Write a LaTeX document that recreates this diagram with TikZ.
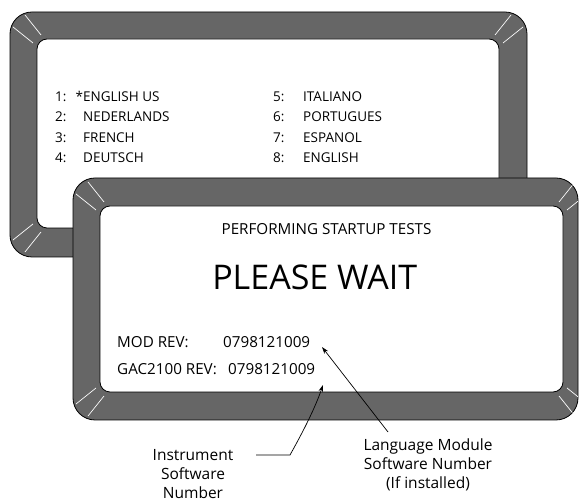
\documentclass[tikz,border=0pt]{standalone}
\usepackage{fontspec}
\setmainfont{Open Sans}
\usetikzlibrary{arrows.meta,positioning,calc}
\definecolor{bezel}{gray}{0.4}

% screen: name, outer corners, inner corners
\newcommand{\drawscreen}[5]{%
  \coordinate (#1-tl) at (#4);
  \coordinate (#1-br) at (#5);
  \coordinate (#1-tr) at (#1-br |- #1-tl);
  \coordinate (#1-bl) at (#1-tl |- #1-br);
  \draw[fill=bezel, line width=0.8pt, rounded corners=22pt] (#2) rectangle (#3);
  \begin{scope}
    \clip[rounded corners=22pt] (#2) rectangle (#3);
    \foreach \c/\sx/\sy in {tl/-1/-1, tr/1/-1, bl/-1/1, br/1/1} {
      \draw[white, line width=0.7pt] ($(#1-\c)+(24*\sx,12*\sy)$) -- ($(#1-\c)+(4*\sx,-4*\sy)$);
      \draw[white, line width=0.7pt] ($(#1-\c)+(12*\sx,24*\sy)$) -- ($(#1-\c)+(-4*\sx,4*\sy)$);
    }
  \end{scope}
  \draw[fill=white, line width=0.8pt, rounded corners=10pt] (#4) rectangle (#5);
}

\begin{document}
\begin{tikzpicture}[x=1pt, y=-1pt,
  menutext/.style={font=\fontsize{13.5}{20.3}\selectfont, inner sep=0pt, anchor=base west},
  scrtext/.style={font=\fontsize{15.2}{20}\selectfont, inner sep=0pt, anchor=base west},
  bigtext/.style={font=\fontsize{34}{40}\selectfont, inner sep=0pt, anchor=base},
  callout/.style={font=\fontsize{15.5}{19}\selectfont, align=center, inner sep=0.5pt},
  pointer/.style={-{Stealth[length=7pt,width=4.5pt]}, line width=0.7pt},
]
\useasboundingbox (0,0) rectangle (579,502);

% language menu screen (behind)
\drawscreen{menu}{10,12}{527,257}{37,39}{499,228}
\node[menutext] (langsA) at (55,101.5) {\begin{tabular}[t]{@{}p{28pt}@{}l@{}}
  1: & \llap{*}ENGLISH US\\ 2: & NEDERLANDS\\ 3: & FRENCH\\ 4: & DEUTSCH\end{tabular}};
\node[menutext] (langsB) at (273,101.5) {\begin{tabular}[t]{@{}p{30pt}@{}l@{}}
  5: & ITALIANO\\ 6: & PORTUGUES\\ 7: & ESPANOL\\ 8: & ENGLISH\end{tabular}};

% startup screen (front)
\drawscreen{start}{73,178}{578,420}{100,206}{563,392}
\node[scrtext, anchor=base] (perf) at (326.5,234.3) {PERFORMING STARTUP TESTS};
\node[bigtext] (wait) at (314.7,290) {PLEASE WAIT};
\node[scrtext] (modrev) at (117,348) {MOD REV:};
\node[scrtext] (modnum) at (223,348) {0798121009};
\node[scrtext] (gacrev) at (117,375) {GAC2100 REV:};
\node[scrtext] (gacnum) at (228,375) {0798121009};

% callouts
\node[callout, anchor=north] (langlbl) at (428,438) {Language Module\\Software Number\\(If installed)};
\node[callout, anchor=north] (instlbl) at (193,448.5) {Instrument\\Software\\Number};
\coordinate (modtip) at (322,347);
\coordinate (gactip) at (323,385);
\coordinate (instkink) at (290,455);

\draw[pointer] ([xshift=-40pt, yshift=6pt]langlbl.north) -- (modtip);
\draw[pointer] (instkink -| instlbl.east) ++(22,0) -- (instkink)
  .. controls (304,430) and (315,408) .. (gactip);
\end{tikzpicture}
\end{document}
